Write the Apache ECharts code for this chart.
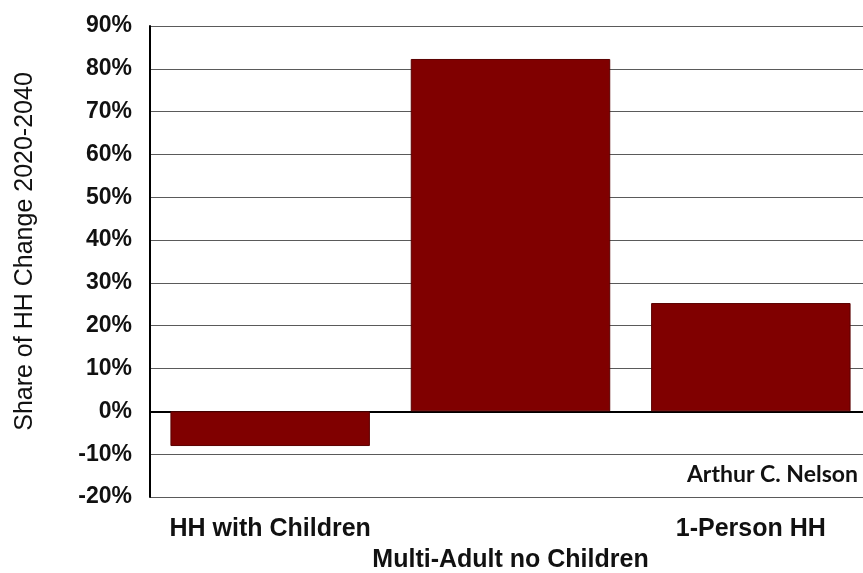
<!DOCTYPE html>
<html>
<head>
<meta charset="utf-8">
<script src="https://cdn.jsdelivr.net/npm/echarts@6/dist/echarts.min.js"></script>
<style>
  html, body { margin: 0; padding: 0; background: #fff; }
  #chart { width: 863px; height: 573px; }
</style>
</head>
<body>
<div id="chart"></div>
<script>
// Household types and their share of household change, 2020-2040 (percent)
const categories = ['HH with Children', 'Multi-Adult no Children', '1-Person HH'];
const shareValues = [-8.1, 82.3, 25.3];
const yTicks = { min: -20, max: 90, step: 10 };
const creditText = 'Arthur C. Nelson';
const axisTitle = 'Share of HH Change 2020-2040';

const chart = echarts.init(document.getElementById('chart'));

// the middle category label sits one row lower than the other two
const catData = categories.map((c, i) => i === 1
  ? { value: c, textStyle: { padding: [31, 0, 0, 0] } }
  : { value: c });

chart.setOption({
  animation: false,
  backgroundColor: '#ffffff',
  grid: {
    left: 150, top: 26, right: -8, bottom: 76,
    containLabel: false,
    outerBoundsMode: 'none'
  },
  xAxis: {
    type: 'category',
    data: catData,
    axisLine: { onZero: true, lineStyle: { color: '#000', width: 2 } },
    axisTick: { show: false },
    axisLabel: {
      margin: 20,
      color: '#111',
      fontFamily: 'Liberation Sans, Arial, sans-serif',
      fontWeight: 'bold',
      fontSize: 25,
      interval: 0
    }
  },
  yAxis: {
    type: 'value',
    min: yTicks.min,
    max: yTicks.max,
    interval: yTicks.step,
    name: axisTitle,
    nameLocation: 'middle',
    nameGap: 112,
    nameTextStyle: {
      color: '#111',
      fontFamily: 'Liberation Sans, Arial, sans-serif',
      fontSize: 25,
      padding: [0, 0, 0, 20]
    },
    axisLine: { show: true, lineStyle: { color: '#000', width: 2 } },
    axisTick: { show: false },
    splitLine: { show: true, lineStyle: { color: '#5a5a5a', width: 1 } },
    axisLabel: {
      margin: 18,
      color: '#111',
      fontFamily: 'Liberation Sans, Arial, sans-serif',
      fontWeight: 'bold',
      fontSize: 23,
      formatter: v => v + '%'
    }
  },
  series: [{
    type: 'bar',
    data: shareValues,
    barCategoryGap: '17%',
    itemStyle: { color: '#800000', borderColor: '#5a0000', borderWidth: 1 }
  }],
  graphic: [{
    type: 'text',
    right: 5,
    top: 463,
    style: {
      text: creditText,
      fill: '#111',
      font: 'bold 23px Lato, "Open Sans", sans-serif'
    }
  }]
});
</script>
</body>
</html>
